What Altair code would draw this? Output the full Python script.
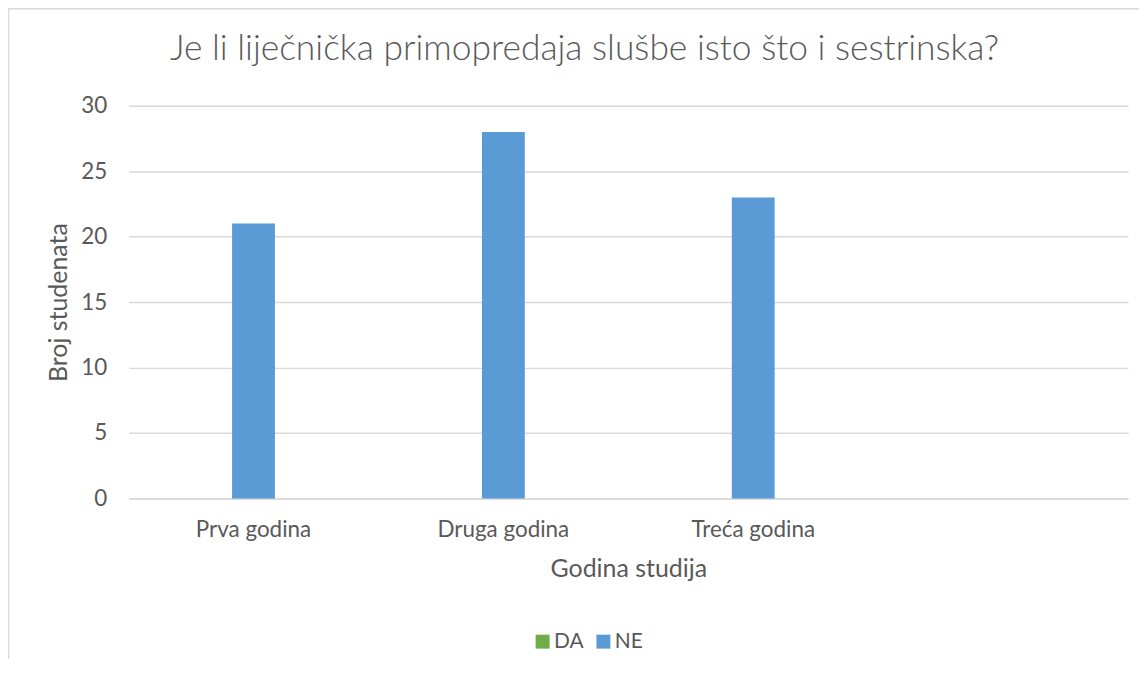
import altair as alt
import pandas as pd

title_text = "Je li liječnička primopredaja slušbe isto što i sestrinska?"
categories = ["Prva godina", "Druga godina", "Treća godina"]
da_values = [0, 0, 0]
ne_values = [21, 28, 23]
series = ["DA", "NE"]
series_colors = ["#70ad47", "#5b9bd5"]
y_ticks = [0, 5, 10, 15, 20, 25, 30]

rows = []
for c, d, n in zip(categories, da_values, ne_values):
    rows.append({"godina": c, "serija": "DA", "broj": d})
    rows.append({"godina": c, "serija": "NE", "broj": n})
df = pd.DataFrame(rows)

x_domain = categories + [" "]
FONT = "Lato"
TXT = "#595959"

bars = alt.Chart(df).mark_bar().encode(
    x=alt.X(
        "godina:N",
        sort=x_domain,
        scale=alt.Scale(domain=x_domain, paddingInner=0.4855, paddingOuter=0.2428),
        axis=alt.Axis(
            title="Godina studija",
            labelAngle=0,
            labelFont=FONT,
            labelFontSize=22.5,
            labelColor=TXT,
            labelPadding=20,
            ticks=False,
            tickSize=0,
            domainColor="#d9d9d9",
            domainWidth=1.5,
            grid=False,
            titleFont=FONT,
            titleFontSize=25,
            titleFontWeight="normal",
            titleColor=TXT,
            titlePadding=16,
        ),
    ),
    xOffset=alt.XOffset(
        "serija:N",
        scale=alt.Scale(domain=["DA", "NE", "-"], paddingInner=0, paddingOuter=0),
    ),
    y=alt.Y(
        "broj:Q",
        scale=alt.Scale(domain=[0, 30], nice=False),
        axis=alt.Axis(
            title="Broj studenata",
            values=y_ticks,
            labelFont=FONT,
            labelFontSize=22.5,
            labelColor=TXT,
            labelPadding=22,
            ticks=False,
            tickSize=0,
            domain=False,
            grid=True,
            gridColor="#d9d9d9",
            gridWidth=1.5,
            titleFont=FONT,
            titleFontSize=25,
            titleFontWeight="normal",
            titleColor=TXT,
            titlePadding=9,
        ),
    ),
    color=alt.Color(
        "serija:N",
        scale=alt.Scale(domain=series, range=series_colors),
        legend=alt.Legend(
            title=None,
            orient="none",
            legendX=405,
            legendY=527,
            direction="horizontal",
            symbolType="square",
            symbolSize=196,
            symbolStrokeWidth=0,
            labelFont=FONT,
            labelFontSize=21,
            labelColor=TXT,
            labelOffset=1,
            columnPadding=9,
        ),
    ),
)

border = alt.Chart(pd.DataFrame({"b": [0]})).mark_rect(
    fill=None, stroke="#d9d9d9", strokeWidth=1.5
).encode(
    x=alt.value(-120.5),
    y=alt.value(-97.5),
    x2=alt.value(1040),
    y2=alt.value(600),
)

title = alt.Chart(pd.DataFrame({"t": [title_text]})).mark_text(
    font=FONT,
    fontSize=35.5,
    fontWeight=300,
    color=TXT,
    align="center",
    baseline="alphabetic",
).encode(
    x=alt.value(457.5),
    y=alt.value(-46),
    text="t:N",
)

chart = alt.layer(border, bars, title).properties(
    width=1003,
    height=394,
    autosize=alt.AutoSizeParams(type="none"),
    padding={"left": 121, "top": 97, "right": 11, "bottom": 160},
).configure_view(stroke=None)

chart.save("out.html", embed_options={"renderer": "svg", "actions": False})
